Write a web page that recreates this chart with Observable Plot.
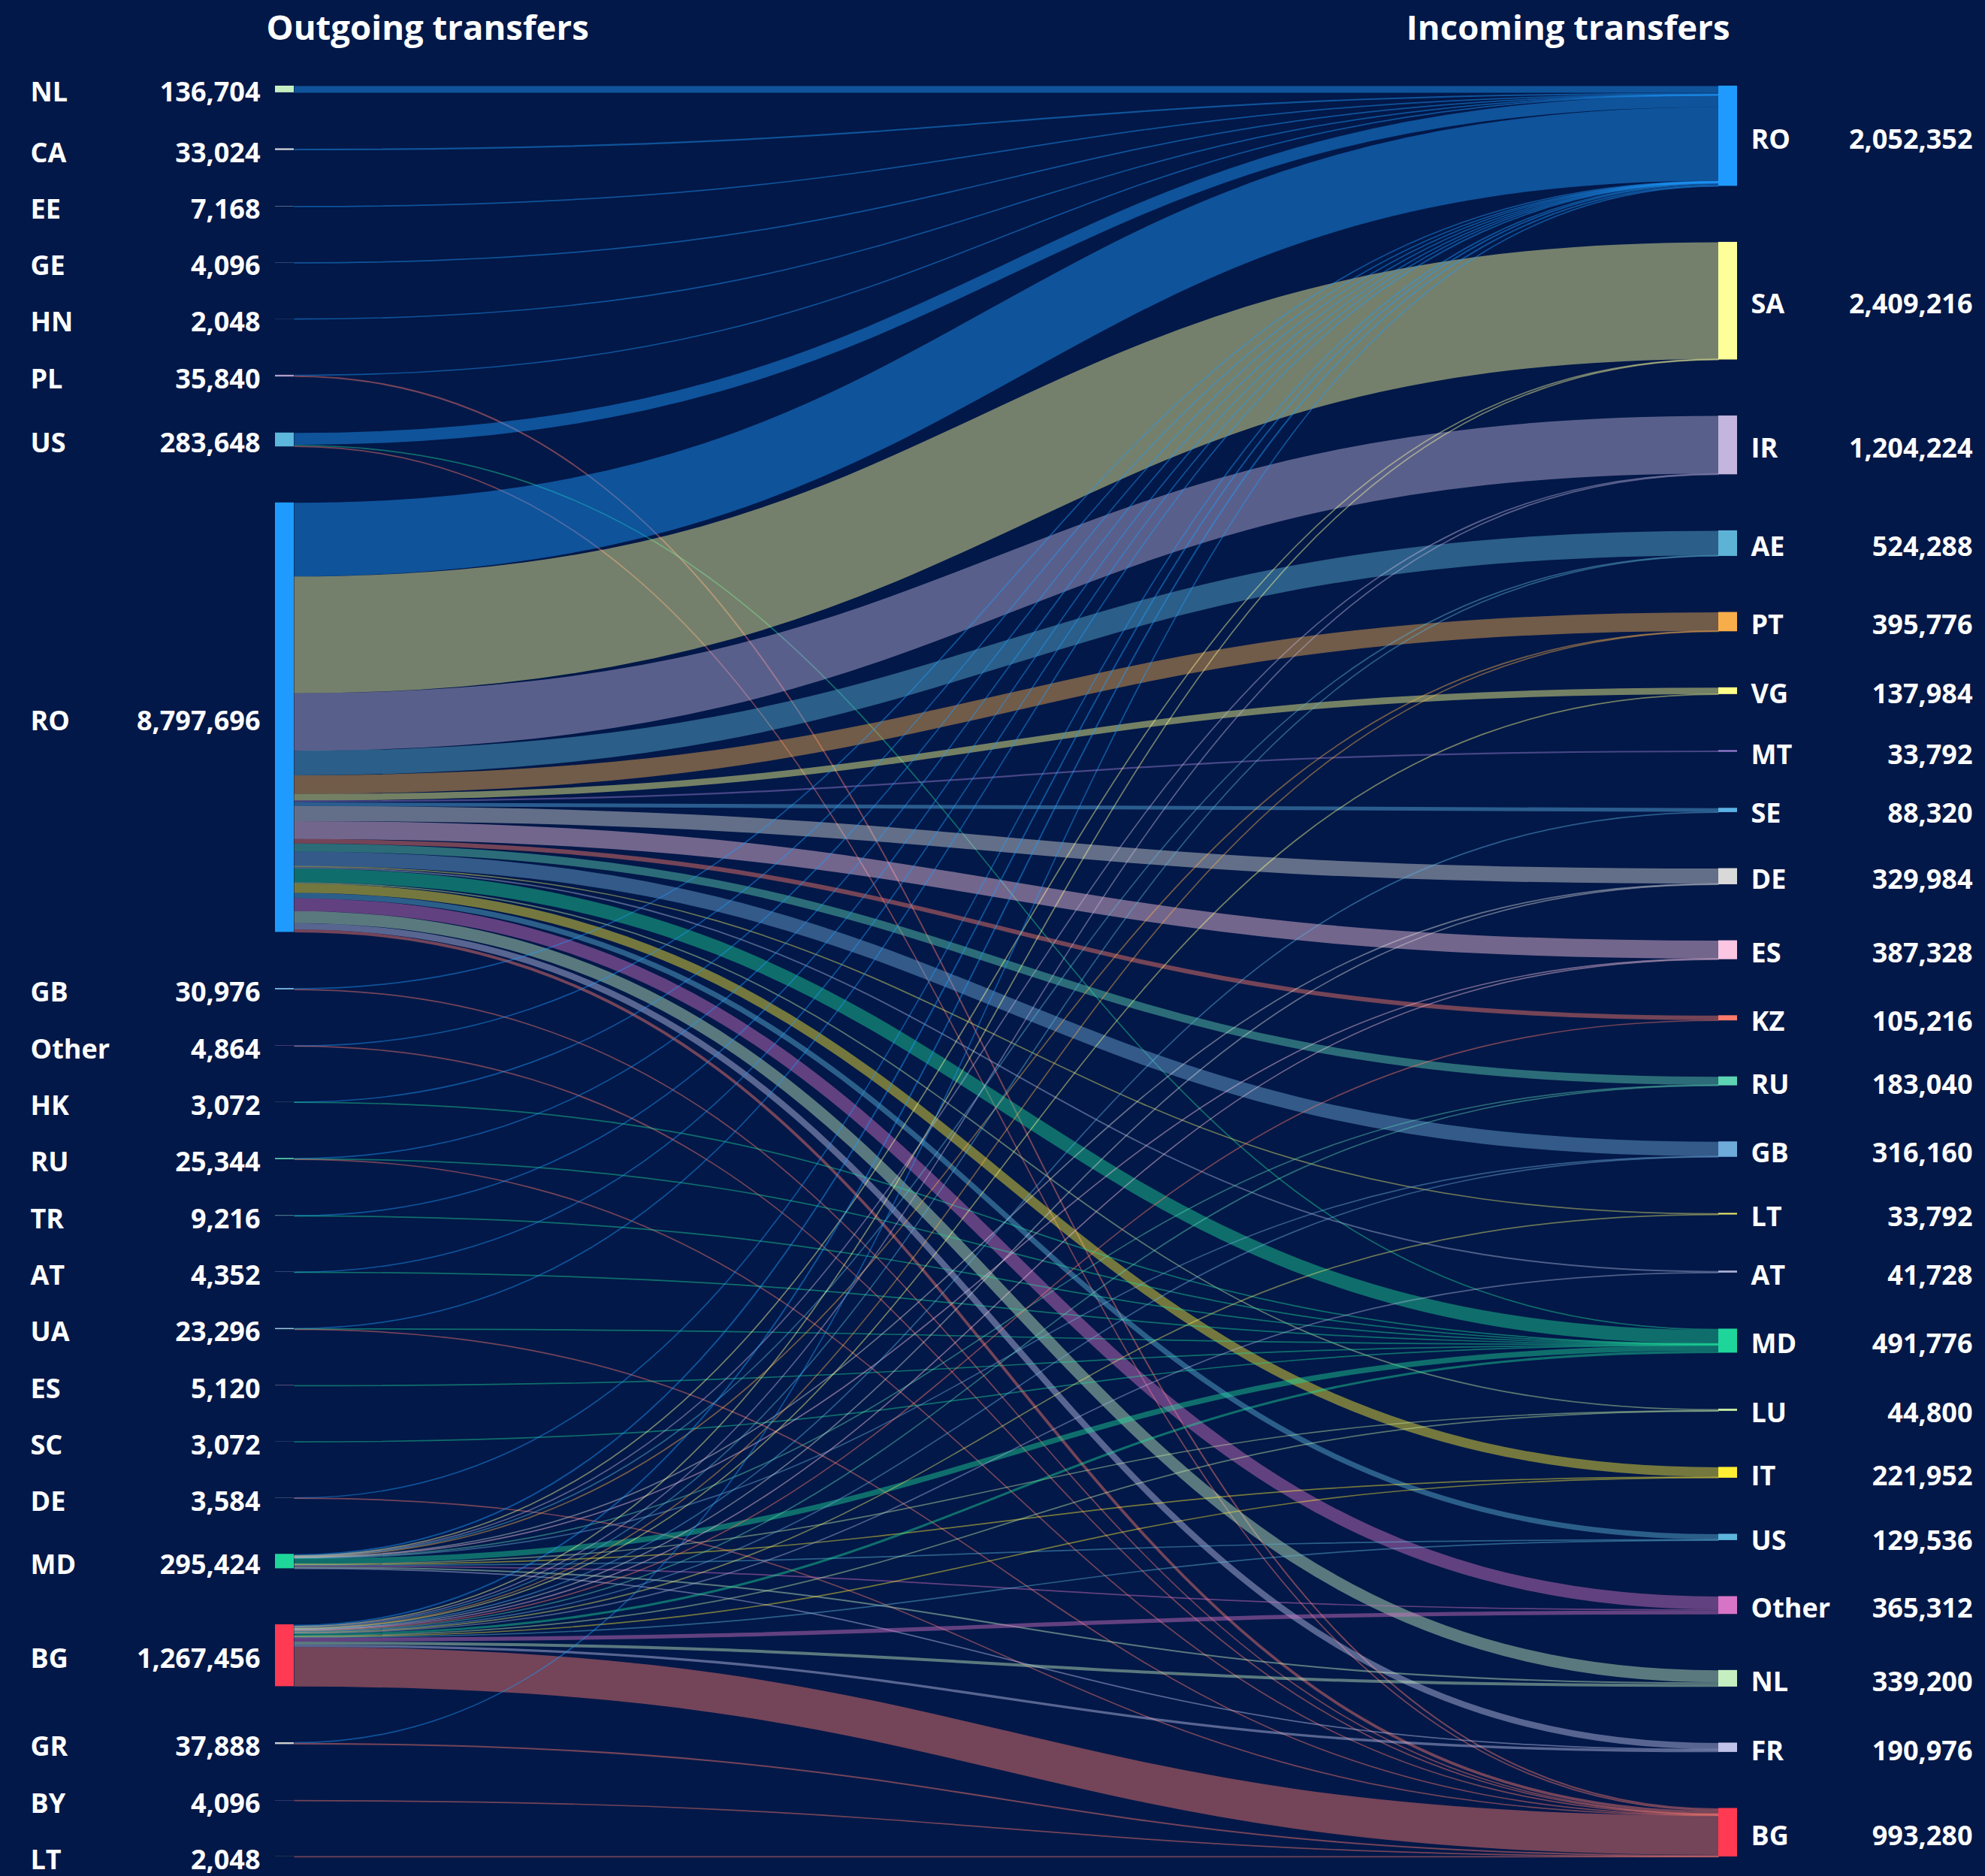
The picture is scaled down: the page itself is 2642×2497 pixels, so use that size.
<!DOCTYPE html>
<html>
<head>
<meta charset="utf-8">
<script src="https://cdn.jsdelivr.net/npm/d3@7"></script>
<script src="https://cdn.jsdelivr.net/npm/@observablehq/plot@0.6"></script>
<style>
  html, body { margin: 0; padding: 0; background: #021848; }
  #chart svg { display: block; }
</style>
</head>
<body>
<div id="chart"></div>
<script>
// ---- Data ----
const sources = ["NL","CA","EE","GE","HN","PL","US","RO","GB","Other","HK","RU","TR","AT","UA","ES","SC","DE","MD","BG","GR","BY","LT"];
const sourceTotals = [136704,33024,7168,4096,2048,35840,283648,8797696,30976,4864,3072,25344,9216,4352,23296,5120,3072,3584,295424,1267456,37888,4096,2048];

const targets = ["RO","SA","IR","AE","PT","VG","MT","SE","DE","ES","KZ","RU","GB","LT","AT","MD","LU","IT","US","Other","NL","FR","BG"];
const targetTotals = [2052352,2409216,1204224,524288,395776,137984,33792,88320,329984,387328,105216,183040,316160,33792,41728,491776,44800,221952,129536,365312,339200,190976,993280];

// [source, target, value]
const flows = [
  ["NL","RO",136704],
  ["CA","RO",33024],
  ["EE","RO",7168],
  ["GE","RO",4096],
  ["HN","RO",2048],
  ["PL","RO",5120],["PL","BG",30720],
  ["US","RO",243712],["US","MD",20480],["US","BG",19456],
  ["RO","RO",1507328],["RO","SA",2392832],["RO","IR",1178624],["RO","AE",503808],["RO","PT",380928],
  ["RO","VG",133888],["RO","MT",33792],["RO","SE",78080],["RO","DE",310272],["RO","ES",368640],
  ["RO","KZ",92160],["RO","RU",163840],["RO","GB",295680],["RO","LT",22528],["RO","AT",28672],
  ["RO","MD",280576],["RO","LU",28160],["RO","IT",192256],["RO","US",109056],["RO","Other",262912],
  ["RO","NL",245248],["RO","FR",129536],["RO","BG",58880],
  ["GB","RO",18432],["GB","BG",12544],
  ["Other","RO",2048],["Other","BG",2816],
  ["HK","RO",1024],["HK","MD",2048],
  ["RU","RO",8192],["RU","MD",6144],["RU","BG",11008],
  ["TR","RO",4096],["TR","MD",5120],
  ["AT","RO",2048],["AT","MD",2304],
  ["UA","RO",8192],["UA","MD",6144],["UA","BG",8960],
  ["ES","MD",5120],
  ["SC","MD",3072],
  ["DE","RO",1536],["DE","BG",2048],
  ["MD","RO",30720],["MD","SA",6144],["MD","IR",10240],["MD","AE",6144],["MD","PT",4608],
  ["MD","DE",7424],["MD","ES",6400],["MD","RU",9216],["MD","GB",5888],["MD","MD",112640],
  ["MD","LU",8192],["MD","IT",14336],["MD","US",10240],["MD","Other",20480],["MD","NL",32512],["MD","FR",10240],
  ["BG","RO",30720],["BG","SA",10240],["BG","IR",15360],["BG","AE",14336],["BG","PT",10240],
  ["BG","VG",4096],["BG","SE",10240],["BG","DE",12288],["BG","ES",12288],["BG","KZ",13056],
  ["BG","RU",9984],["BG","GB",14592],["BG","LT",11264],["BG","AT",13056],["BG","MD",48128],
  ["BG","LU",8448],["BG","IT",15360],["BG","US",10240],["BG","Other",81920],["BG","NL",61440],
  ["BG","FR",51200],["BG","BG",808960],
  ["GR","RO",6144],["GR","BG",31744],
  ["BY","BG",4096],
  ["LT","BG",2048]
];

// node colours and the (slightly different) colours used for the flows into them
const colorNames      = ["RO","SA","IR","AE","PT","VG","MT","SE","DE","ES","KZ","RU","GB","LT","AT","MD","LU","IT","US","Other","NL","FR","BG","CA","EE","GE","HN","PL","HK","TR","UA","SC","GR","BY"];
const nodeColorValues = ["#1f9bff","#ffff99","#c3b5de","#5db3d6","#f8ad4b","#ffff88","#9b7fd4","#5cb0e4","#d9d9d9","#fbc6e2","#ff7b6b","#5dd3b4","#6eabd9","#e6e66a","#a9b3d6","#1fd69a","#c4e8a4","#ffee33","#5db6dc","#d874c6","#c6efc1","#c2c3ea","#ff3a52","#e0e0e0","#9ecae1","#9ecae1","#9ecae1","#b39bc8","#66c2a5","#8dd3c7","#9ecae1","#80b1d3","#cfcfcf","#bc80bd"];
const linkColorValues = ["#1f9bff","#ffff99","#c3b5de","#5db3d6","#f8ad4b","#ffff88","#9b7fd4","#5cb0e4","#d9d9d9","#fbc6e2","#ff7b6b","#5dd3b4","#6eabd9","#e6e66a","#a9b3d6","#1fd69a","#c4e8a4","#ffee33","#5db6dc","#d874c6","#c6efc1","#c2c3ea","#ff7a6e","#e0e0e0","#9ecae1","#9ecae1","#9ecae1","#b39bc8","#66c2a5","#8dd3c7","#9ecae1","#80b1d3","#cfcfcf","#bc80bd"];

const titles = ["Outgoing transfers", "Incoming transfers"];

// ---- Sankey layout (in value units) ----
const W = 2642, H = 2497;
const padUnits = 1148000;            // gap between nodes, in value units
const total = d3.sum(sourceTotals);
const yMax = total + (sources.length - 1) * padUnits;
const yTop = 114, yBottom = 2471;
const xLeft = 366, xRight = 2312;
const nodeW = 25 / (xRight - xLeft);  // node width in x units
const pxPerUnit = (yBottom - yTop) / yMax;

function stack(names, totals, side) {
  let y = 0;
  return names.map((name, i) => {
    const n = {name, value: totals[i], side, y0: y, y1: y + totals[i]};
    y += totals[i] + padUnits;
    return n;
  });
}
const leftNodes = stack(sources, sourceTotals, 0);
const rightNodes = stack(targets, targetTotals, 1);

const links = flows.map(([s, t, v]) => ({s, t, key: t + " link", v, si: sources.indexOf(s), ti: targets.indexOf(t)}));
const sOff = new Map(), tOff = new Map();
[...links].sort((a, b) => a.si - b.si || a.ti - b.ti).forEach(l => {
  const o = sOff.has(l.si) ? sOff.get(l.si) : leftNodes[l.si].y0;
  l.sy = o + l.v / 2; sOff.set(l.si, o + l.v);
});
[...links].sort((a, b) => a.ti - b.ti || a.si - b.si).forEach(l => {
  const o = tOff.has(l.ti) ? tOff.get(l.ti) : rightNodes[l.ti].y0;
  l.ty = o + l.v / 2; tOff.set(l.ti, o + l.v);
});

const fmt = d3.format(",");
const labelStyle = {fill: "#ffffff", fontSize: 36, fontWeight: 700, dy: 5};
const mid = d => (d.y0 + d.y1) / 2;

const chart = Plot.plot({
  width: W,
  height: H,
  marginTop: 0, marginBottom: 0, marginLeft: 0, marginRight: 0,
  style: {background: "#021848", fontFamily: "'Open Sans', 'Noto Sans', sans-serif", overflow: "visible"},
  x: {domain: [0, 1], range: [xLeft, xRight], axis: null},
  y: {domain: [0, yMax], range: [yTop, yBottom], axis: null},
  color: {
    domain: [...colorNames, ...colorNames.map(n => n + " link")],
    range: [...nodeColorValues, ...linkColorValues]
  },
  marks: [
    Plot.link(links, {
      x1: () => nodeW, x2: () => 1 - nodeW,
      y1: "sy", y2: "ty",
      stroke: "key",
      strokeOpacity: 0.45,
      strokeWidth: d => Math.max(1.7, d.v * pxPerUnit),
      curve: "bump-x"
    }),
    Plot.rect(leftNodes, {x1: () => 0, x2: () => nodeW, y1: "y0", y2: "y1", fill: "name"}),
    Plot.rect(rightNodes, {x1: () => 1 - nodeW, x2: () => 1, y1: "y0", y2: "y1", fill: "name"}),
    Plot.text(leftNodes, {x: () => 0, y: mid, text: "name", textAnchor: "start", dx: -326, ...labelStyle}),
    Plot.text(leftNodes, {x: () => 0, y: mid, text: d => fmt(d.value), textAnchor: "end", dx: -20, ...labelStyle}),
    Plot.text(rightNodes, {x: () => 1, y: mid, text: "name", textAnchor: "start", dx: 18, ...labelStyle}),
    Plot.text(rightNodes, {x: () => 1, y: mid, text: d => fmt(d.value), textAnchor: "end", dx: 313, ...labelStyle}),
    Plot.text([titles[0]], {x: () => 0, frameAnchor: "top", dy: 38, lineAnchor: "middle", textAnchor: "start", dx: -12, fill: "#ffffff", fontSize: 45.5, fontWeight: 700}),
    Plot.text([titles[1]], {x: () => 1, frameAnchor: "top", dy: 38, lineAnchor: "middle", textAnchor: "end", dx: -10, fill: "#ffffff", fontSize: 45.5, fontWeight: 700})
  ]
});
document.getElementById("chart").appendChild(chart);
</script>
</body>
</html>
